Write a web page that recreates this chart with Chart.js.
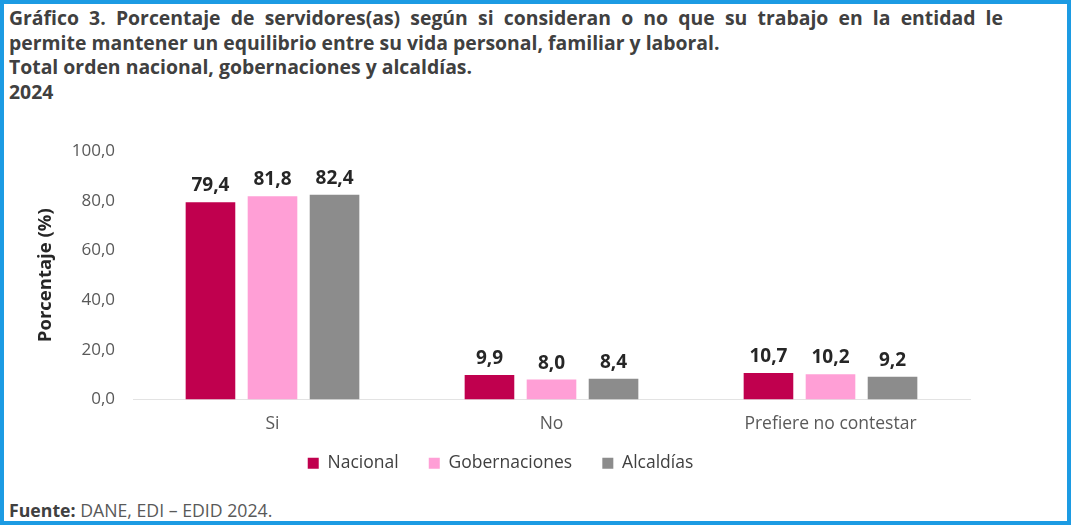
<!DOCTYPE html>
<html>
<head>
<meta charset="utf-8">
<script src="https://cdn.jsdelivr.net/npm/chart.js@4/dist/chart.umd.min.js"></script>
<style>
  html, body { margin: 0; padding: 0; background: #fff; }
  #frame {
    position: relative; width: 1071px; height: 525px; box-sizing: border-box;
    border: 4px solid #1c9be3; background: #fff; overflow: hidden;
    font-family: "Open Sans", "Liberation Sans", sans-serif;
  }
  #title {
    position: absolute; left: 5px; top: 2px; width: 994px;
    font-weight: bold; font-size: 19.4px; line-height: 24.5px; color: #404040;
  }
  #title .j { text-align: justify; text-align-last: justify; }
  #box { position: absolute; left: -4px; top: 126px; width: 1071px; height: 352px; }
  #fuente {
    position: absolute; left: 5px; bottom: -1px; font-size: 17.7px; color: #595959;
  }
  #fuente b { color: #404040; }
</style>
</head>
<body>
<div id="frame">
  <div id="title">
    <div class="j">Gráfico 3. Porcentaje de servidores(as) según si consideran o no que su trabajo en la entidad le</div>
    <div>permite mantener un equilibrio entre su vida personal, familiar y laboral.</div>
    <div>Total orden nacional, gobernaciones y alcaldías.</div>
    <div>2024</div>
  </div>
  <div id="box"><canvas id="chart"></canvas></div>
  <div id="fuente"><b>Fuente:</b> DANE, EDI – EDID 2024.</div>
</div>
<script>
// datos
const categorias = ['Si', 'No', 'Prefiere no contestar'];
const nacional = [79.4, 9.9, 10.7];
const gobernaciones = [81.8, 8.0, 10.2];
const alcaldias = [82.4, 8.4, 9.2];
const ticksY = [0, 20, 40, 60, 80, 100];

const fmt = v => v.toFixed(1).replace('.', ',');
const fuente = '"Open Sans", sans-serif';

// etiquetas encima de las barras
const etiquetas = {
  id: 'etiquetas',
  afterDatasetsDraw(chart) {
    const ctx = chart.ctx;
    ctx.save();
    ctx.font = 'bold 19px ' + fuente;
    ctx.fillStyle = '#262626';
    ctx.textAlign = 'center';
    ctx.textBaseline = 'bottom';
    chart.data.datasets.forEach((ds, i) => {
      chart.getDatasetMeta(i).data.forEach((bar, j) => {
        ctx.fillText(fmt(ds.data[j]), bar.x, bar.y - 7);
      });
    });
    ctx.restore();
  }
};

new Chart(document.getElementById('chart'), {
  type: 'bar',
  data: {
    labels: categorias,
    datasets: [
      { label: 'Nacional', data: nacional, backgroundColor: '#c0004e' },
      { label: 'Gobernaciones', data: gobernaciones, backgroundColor: '#ff9fd6' },
      { label: 'Alcaldías', data: alcaldias, backgroundColor: '#8c8c8c' }
    ]
  },
  options: {
    responsive: true,
    maintainAspectRatio: false,
    animation: false,
    events: [],
    layout: { padding: { left: 31, right: 101, top: 21, bottom: 0 } },
    datasets: { bar: { categoryPercentage: 0.667, barPercentage: 0.8 } },
    plugins: {
      legend: {
        position: 'bottom',
        labels: {
          boxWidth: 11, boxHeight: 11, padding: 12,
          color: '#404040',
          font: { size: 17.5, family: fuente },
          // espacio extra entre elementos de la leyenda
          generateLabels: chart => {
            const items = Chart.defaults.plugins.legend.labels.generateLabels(chart);
            items.forEach((it, i) => { if (i < items.length - 1) it.text += '    '; });
            return items;
          }
        }
      },
      tooltip: { enabled: false }
    },
    scales: {
      x: {
        grid: { display: false },
        border: { display: true, color: '#e3e3e3' },
        ticks: { color: '#595959', padding: 6, font: { size: 17.5, family: fuente } },
        afterFit: s => { s.height = 43; }
      },
      y: {
        min: 0, max: 100,
        grid: { display: false },
        border: { display: false },
        afterBuildTicks: s => { s.ticks = ticksY.map(v => ({ value: v })); },
        ticks: {
          color: '#595959', padding: 10,
          font: { size: 17, family: fuente },
          callback: v => fmt(v)
        },
        title: {
          display: true, text: 'Porcentaje (%)', color: '#262626',
          font: { size: 18.5, weight: 'bold', family: fuente }
        },
        afterFit: s => { s.width = 102; }
      }
    }
  },
  plugins: [etiquetas]
});
</script>
</body>
</html>
